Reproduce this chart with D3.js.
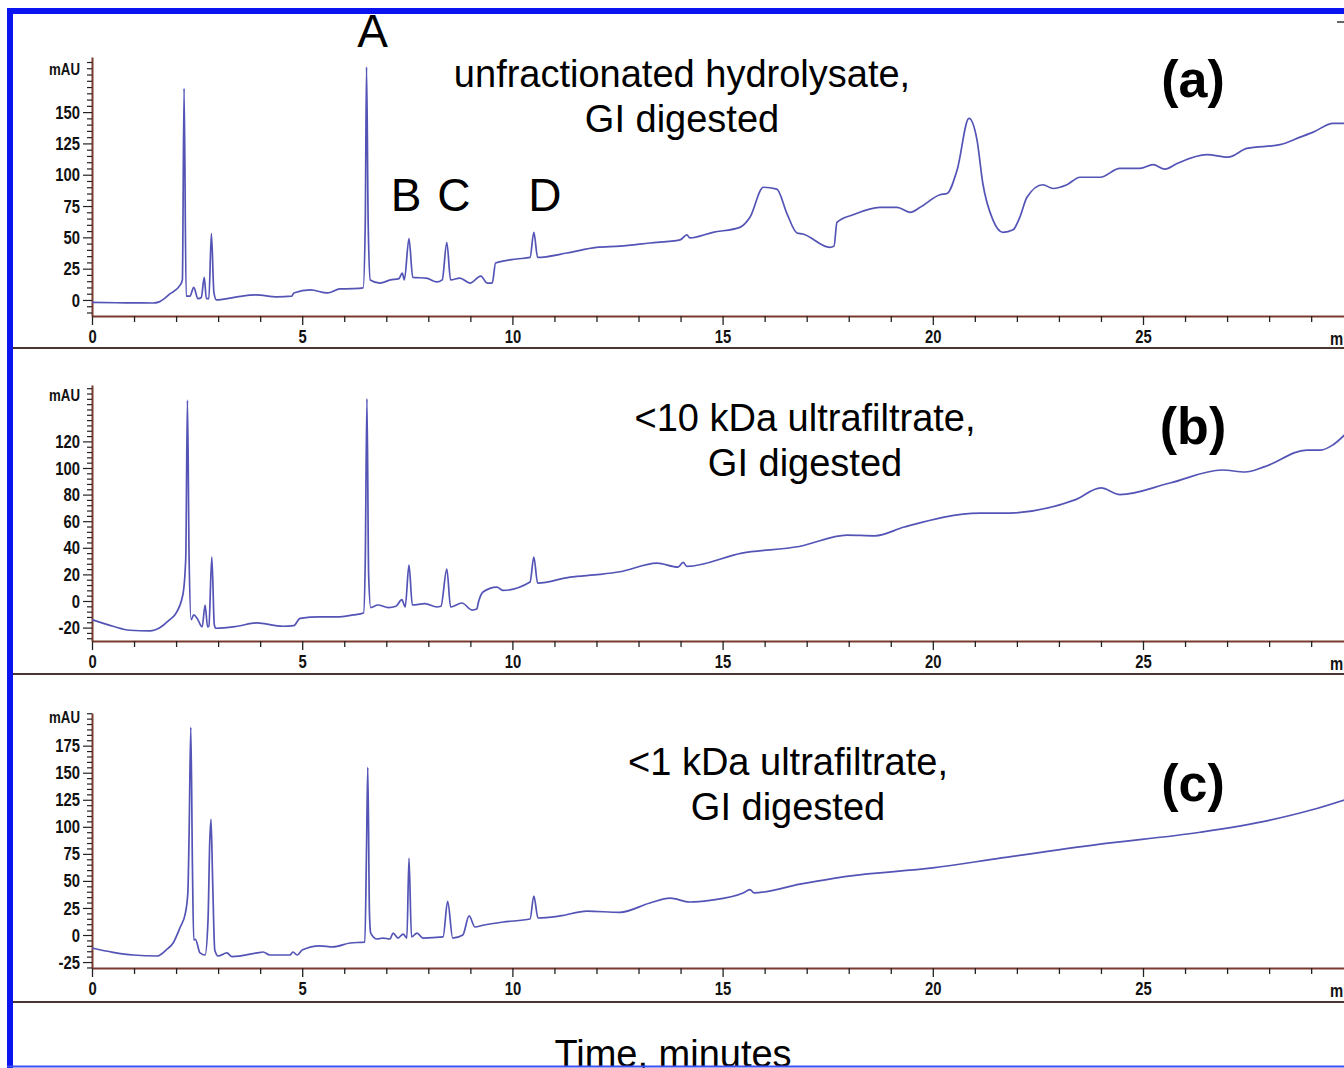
<!DOCTYPE html>
<html>
<head>
<meta charset="utf-8">
<script src="https://cdn.jsdelivr.net/npm/d3@7"></script>
<style>
html, body { margin: 0; padding: 0; background: #fff; overflow: hidden; }
svg { display: block; }
.tick text, .minlbl { font-family: "Liberation Sans", Arial, sans-serif; font-weight: bold; font-size: 19px; fill: #111; }
.unit { font-family: "Liberation Sans", Arial, sans-serif; font-weight: bold; font-size: 17px; fill: #111; }
.title { font-family: "Liberation Sans", Arial, sans-serif; font-size: 38px; fill: #000; }
.panel { font-family: "Liberation Sans", Arial, sans-serif; font-size: 52px; font-weight: bold; fill: #000; }
.peak { font-family: "Liberation Sans", Arial, sans-serif; font-size: 46px; fill: #000; }
</style>
</head>
<body>
<svg id="chart" width="1344" height="1068"></svg>
<script>
// time (min), absorbance (mAU)
const chromA = [
  [0, -2], [0.8, -2.3], [1.45, -2.4], [1.6, -1.5], [1.86, 5], [2.1, 12], [2.15, 16], [2.19, 169], [2.24, 3],
  [2.33, 3], [2.42, 10], [2.52, 1], [2.6, 2], [2.67, 18], [2.72, 1], [2.78, 1], [2.84, 53], [2.9, 6], [2.96, 0],
  [3.1, 0.5], [3.45, 2.4], [3.9, 4], [4.4, 2.4], [4.75, 3], [4.8, 5.6], [5.2, 8], [5.6, 5.6], [5.9, 8.8],
  [6.2, 9], [6.45, 9.6], [6.5, 61], [6.53, 186], [6.57, 60], [6.62, 16], [6.85, 13.5], [7.1, 16], [7.3, 17],
  [7.38, 21.5], [7.43, 16], [7.54, 49], [7.63, 18], [7.95, 17.5], [8.2, 14.4], [8.33, 16], [8.44, 46],
  [8.53, 16], [8.75, 17.5], [8.99, 13.5], [9.25, 19], [9.4, 13.5], [9.52, 13.5], [9.6, 29.5], [10.1, 32.7],
  [10.42, 34], [10.51, 54], [10.6, 34], [11.3, 37.5], [12.0, 42], [12.56, 43], [13.27, 45.5], [13.99, 48],
  [14.15, 52], [14.22, 49.5], [14.77, 54], [15.41, 58], [15.65, 66], [15.97, 90], [16.29, 88.5], [16.53, 69],
  [16.77, 53.5], [16.91, 52.7], [17.55, 42], [17.65, 43], [17.72, 62], [18.1, 68], [18.74, 74], [19.15, 74],
  [19.46, 70], [19.7, 74], [20.17, 84], [20.34, 85], [20.58, 104], [20.86, 145], [21.05, 128], [21.19, 93],
  [21.43, 64], [21.67, 54], [21.91, 56], [22.07, 66], [22.24, 82], [22.62, 92], [22.86, 89], [23.19, 92],
  [23.5, 98], [23.98, 98], [24.45, 105], [24.93, 105], [25.24, 108], [25.52, 104.5], [25.81, 109],
  [26.52, 116], [27.02, 114], [27.47, 121], [28.26, 124], [28.74, 130], [29.05, 134], [29.52, 141], [29.8, 141]
];

const chromB = [
  [0, -14], [0.5, -19], [0.9, -22], [1.38, -22.5], [1.62, -20], [1.85, -14], [1.97, -10.5], [2.16, 4.5],
  [2.23, 32], [2.27, 151], [2.31, 32], [2.36, -14], [2.42, -10.5], [2.5, -13], [2.62, -19.5], [2.69, -3],
  [2.75, -19.5], [2.78, -19], [2.85, 33], [2.91, -18], [2.95, -20.5], [3.45, -19], [3.92, -16.5], [4.54, -19],
  [4.8, -18.5], [4.95, -13], [5.42, -12], [5.82, -12], [6.21, -10.5], [6.46, -9], [6.5, 30], [6.54, 152],
  [6.58, 20], [6.63, -5], [6.8, -3], [7.05, -5], [7.23, -4], [7.37, 1], [7.45, -4.5], [7.54, 27], [7.62, -3],
  [7.92, -2], [8.2, -4.5], [8.3, -4], [8.44, 24], [8.53, -4.5], [8.8, -1.5], [9.04, -6.8], [9.15, -6], [9.2, 0],
  [9.3, 6.8], [9.63, 10.5], [9.77, 8], [10.42, 14.3], [10.51, 33], [10.6, 13.5], [11.37, 18], [12.08, 20],
  [12.56, 22], [13.44, 28.5], [13.94, 25.5], [14.06, 29], [14.15, 26], [15.46, 36], [16.82, 41], [17.96, 49.6],
  [18.62, 49], [19.32, 55.6], [21.12, 66], [21.67, 66], [23.38, 76], [24.0, 85], [24.45, 80], [25.64, 88.7],
  [26.88, 98.5], [27.43, 97], [27.88, 100.8], [28.9, 113.5], [29.23, 113.5], [29.5, 117], [29.8, 125]
];

const chromC = [
  [0, -12], [0.5, -16], [0.98, -18.5], [1.55, -19.4], [1.76, -13.9], [1.93, -7.4], [2.1, 7.4], [2.22, 20],
  [2.28, 39], [2.31, 94], [2.35, 192], [2.39, 60], [2.42, -4.6], [2.46, -4], [2.57, -16.6], [2.69, -18.5],
  [2.76, 14], [2.8, 85], [2.83, 107], [2.87, 50], [2.92, -13.9], [3.0, -19.4], [3.21, -16.6], [3.33, -20],
  [3.92, -16.6], [4.07, -15.7], [4.23, -18.5], [4.71, -18.5], [4.78, -15.7], [4.88, -18.5], [5.0, -13.9],
  [5.42, -10], [5.73, -11], [6.14, -7.4], [6.49, -6.5], [6.53, 80], [6.56, 155], [6.6, 20], [6.63, 1.8],
  [6.78, -3.7], [6.92, -2.8], [7.09, -3.7], [7.16, 1.8], [7.28, -2.8], [7.4, 0.9], [7.49, -2.8], [7.54, 71],
  [7.6, -1.8], [7.73, 1.8], [7.87, -2.8], [8.35, -1.8], [8.46, 31], [8.58, -2.8], [8.82, 0], [8.97, 17.6],
  [9.11, 7.4], [9.3, 9], [9.78, 12], [10.42, 14.8], [10.51, 36], [10.61, 15.7], [11.13, 17.6], [11.77, 22],
  [12.56, 21], [13.27, 29.6], [13.75, 34], [14.22, 30.5], [14.7, 32], [15.5, 39], [15.65, 42], [15.75, 39],
  [16.84, 47], [18.0, 54.5], [20.0, 62], [21.6, 71], [23.98, 84], [26.36, 95], [28.0, 106], [29.0, 115.5], [29.8, 125]
];

const xMajor = [0, 5, 10, 15, 20, 25];
const yMajorA = [0, 25, 50, 75, 100, 125, 150];
const yMajorB = [-20, 0, 20, 40, 60, 80, 100, 120];
const yMajorC = [-25, 0, 25, 50, 75, 100, 125, 150, 175];

const titlesA = ["unfractionated hydrolysate,", "GI digested"];
const titlesB = ["<10 kDa ultrafiltrate,", "GI digested"];
const titlesC = ["<1 kDa ultrafiltrate,", "GI digested"];
const peakLetters = ["A", "B", "C", "D"];
const peakTimes = [6.53, 7.54, 8.44, 10.51];

const svg = d3.select("#chart");
const lineColor = "#5454b6";
const axisColor = "#7b3a2e";
const narrow = 0.78; // squeeze tick labels horizontally, the originals are condensed

const x = d3.scaleLinear().domain([0, 30]).range([92, 92 + 30 * 42.04]);

function isMajor(list, d) {
    return list.some(m => Math.abs(m - d) < 1e-6);
}

function drawPanel(p) {
    const y = d3.scaleLinear().domain(p.yDomain).range([p.axisY, p.topY]);
    const g = svg.append("g");

    // separator under the panel
    g.append("line")
        .attr("x1", 12).attr("x2", 1344)
        .attr("y1", p.sepY).attr("y2", p.sepY)
        .attr("stroke", "#4a3530").attr("stroke-width", 2);

    // x axis
    const xa = g.append("g")
        .attr("transform", `translate(0,${p.axisY})`)
        .call(d3.axisBottom(x)
            .tickValues(d3.range(0, 31))
            .tickSizeOuter(0)
            .tickFormat(d => xMajor.includes(d) ? String(d) : ""));
    xa.select(".domain").attr("stroke", axisColor).attr("stroke-width", 2);
    xa.selectAll(".tick line").attr("stroke", "#222").attr("stroke-width", 1.3)
        .attr("y2", d => d % 5 === 0 ? 9 : 6);
    xa.selectAll(".tick text").attr("y", 14).attr("transform", `scale(${narrow},1)`);
    g.append("text").attr("class", "minlbl")
        .attr("transform", `translate(${x(29.45)},${p.axisY + 29}) scale(${narrow},1)`)
        .text("min");

    // y axis
    const step = (p.major[1] - p.major[0]) / 5;
    const minor = d3.range(Math.ceil(p.yDomain[0] / step) * step, p.yDomain[1], step);
    const ya = g.append("g")
        .attr("transform", `translate(92,0)`)
        .call(d3.axisLeft(y)
            .tickValues(minor)
            .tickSizeOuter(0)
            .tickFormat(d => isMajor(p.major, d) ? String(Math.round(d)) : ""));
    ya.select(".domain").attr("stroke", axisColor).attr("stroke-width", 2);
    ya.selectAll(".tick line").attr("stroke", "#222").attr("stroke-width", 1.2)
        .attr("x2", d => isMajor(p.major, d) ? -9 : -5);
    ya.selectAll(".tick text").attr("x", 0)
        .attr("transform", `translate(-12,0) scale(${narrow},1)`);
    g.append("text").attr("class", "unit")
        .attr("transform", `translate(80,${p.unitY}) scale(${narrow},1)`)
        .attr("dy", "0.35em")
        .attr("text-anchor", "end").text("mAU");

    // trace
    const line = d3.line().x(d => x(d[0])).y(d => y(d[1])).curve(d3.curveMonotoneX);
    g.append("path").datum(p.data)
        .attr("fill", "none").attr("stroke", lineColor)
        .attr("stroke-width", 1.7).attr("stroke-linejoin", "round")
        .attr("d", line);

    // captions
    p.titles.forEach((t, i) => {
        g.append("text").attr("class", "title")
            .attr("x", p.titleX).attr("y", p.titleY + i * 45)
            .attr("text-anchor", "middle").text(t);
    });
    g.append("text").attr("class", "panel")
        .attr("x", 1193).attr("y", p.panelY)
        .attr("text-anchor", "middle").text(p.panel);
    return y;
}

drawPanel({ data: chromA, yDomain: [-12.8, 194], axisY: 316, topY: 57, sepY: 348, unitY: 69,
    major: yMajorA, titles: titlesA, titleX: 682, titleY: 87, panel: "(a)", panelY: 97 });
drawPanel({ data: chromB, yDomain: [-30.08, 162.4], axisY: 641, topY: 385, sepY: 674, unitY: 395,
    major: yMajorB, titles: titlesB, titleX: 805, titleY: 431, panel: "(b)", panelY: 444 });
drawPanel({ data: chromC, yDomain: [-30.5, 205.2], axisY: 968, topY: 713, sepY: 1002, unitY: 717,
    major: yMajorC, titles: titlesC, titleX: 788, titleY: 775, panel: "(c)", panelY: 801 });

// peak letters in panel (a)
const letterY = [47, 211, 211, 211];
const letterShift = [6, -3, 7, 11];
peakLetters.forEach((l, i) => {
    svg.append("text").attr("class", "peak")
        .attr("x", x(peakTimes[i]) + letterShift[i])
        .attr("y", letterY[i])
        .attr("text-anchor", "middle").text(l);
});

svg.append("text").attr("class", "title")
    .attr("x", 673).attr("y", 1067).attr("text-anchor", "middle")
    .text("Time, minutes");

// blue frame
svg.append("rect").attr("x", 7).attr("y", 8).attr("width", 1337).attr("height", 6).attr("fill", "#0a14f0");
svg.append("rect").attr("x", 7).attr("y", 8).attr("width", 6).attr("height", 1060).attr("fill", "#0a14f0");
svg.append("line").attr("x1", 7).attr("x2", 1344).attr("y1", 1066.5).attr("y2", 1066.5)
    .attr("stroke", "#3a50f0").attr("stroke-width", 2);
svg.append("line").attr("x1", 1337).attr("x2", 1344).attr("y1", 22).attr("y2", 22)
    .attr("stroke", "#333").attr("stroke-width", 1.5);
</script>
</body>
</html>
